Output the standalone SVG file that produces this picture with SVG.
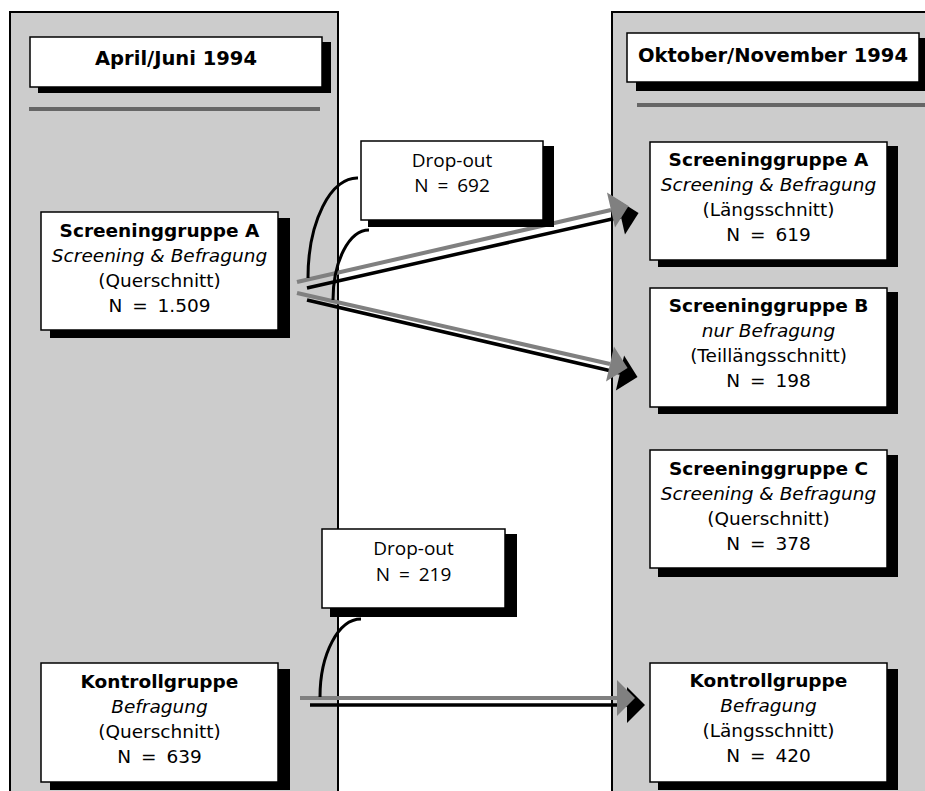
<svg xmlns="http://www.w3.org/2000/svg" width="925" height="791" viewBox="0 0 925 791">
<style>
.panel{fill:#cccccc;stroke:#000;stroke-width:2}
.box{fill:#fff;stroke:#000;stroke-width:1.5}
.shadow{fill:#000}
.sep{stroke:#666;stroke-width:4}
.hdr{font-family:"DejaVu Sans",sans-serif;font-weight:bold;font-size:19.5px;text-anchor:middle;fill:#000}
.t{font-family:"DejaVu Sans",sans-serif;font-size:18.5px;text-anchor:middle;fill:#000}
.b{font-weight:bold}
.i{font-style:italic}
.n{word-spacing:4px}
.d{font-family:"Open Sans","Noto Sans",sans-serif;font-size:19px;text-anchor:middle;fill:#000}
.dn{word-spacing:4px}
.gl{stroke:#808080;stroke-width:4;fill:none}
.bl{stroke:#000;stroke-width:3.5;fill:none}
.cv{stroke:#000;stroke-width:3;fill:none}
</style>
<defs>
<marker id="hg" markerUnits="userSpaceOnUse" orient="auto" refX="0" refY="0" markerWidth="40" markerHeight="40" viewBox="-2 -20 22 40" overflow="visible">
<path d="M0,-18 L18,0 L0,18 z" fill="#808080"/>
</marker>
<marker id="hb" markerUnits="userSpaceOnUse" orient="auto" refX="0" refY="0" markerWidth="40" markerHeight="40" viewBox="-2 -20 22 40" overflow="visible">
<path d="M0,-18 L18,0 L0,18 z" fill="#000"/>
</marker>
</defs>

<g id="panel-left">
<rect class="panel" x="10" y="12" width="328" height="790"/>
</g>
<g id="panel-right">
<rect class="panel" x="612" y="12" width="330" height="790"/>
</g>

<g id="header-left">
<rect class="shadow" x="38" y="42" width="293" height="51"/>
<rect class="box" x="30" y="37" width="292" height="50"/>
<text class="hdr" x="176" y="65">April/Juni 1994</text>
<line class="sep" x1="29" y1="109" x2="320" y2="109"/>
</g>
<g id="header-right">
<rect class="shadow" x="636" y="38" width="293" height="53"/>
<rect class="box" x="627" y="33" width="292" height="49"/>
<text class="hdr" x="773" y="62">Oktober/November 1994</text>
<line class="sep" x1="637" y1="105" x2="925" y2="105"/>
</g>

<g id="connectors">
<path class="bl" d="M307,288 L621,217" marker-end="url(#hb)"/>
<path class="gl" d="M297,282 L611,210" marker-end="url(#hg)"/>
<path class="bl" d="M307,300 L620,373" marker-end="url(#hb)"/>
<path class="gl" d="M297,293 L610,364" marker-end="url(#hg)"/>
<path class="bl" d="M310,705 L627,705" marker-end="url(#hb)"/>
<path class="gl" d="M300,698 L617,698" marker-end="url(#hg)"/>
<path class="cv" d="M308,278 A49,100 0 0 1 358,178"/>
<path class="cv" d="M333,300 A36,70 0 0 1 369,230"/>
<path class="cv" d="M320,697 A41,78 0 0 1 361,619"/>
</g>

<g id="left-screening-a">
<rect class="shadow" x="50" y="218" width="240" height="120"/>
<rect class="box" x="41" y="212" width="237" height="118"/>
<text class="t b" x="159.5" y="237">Screeninggruppe A</text>
<text class="t i" x="159.5" y="262">Screening &amp; Befragung</text>
<text class="t" x="159.5" y="287">(Querschnitt)</text>
<text class="t n" x="159.5" y="312">N = 1.509</text>
</g>

<g id="left-kontroll">
<rect class="shadow" x="50" y="669" width="240" height="121"/>
<rect class="box" x="41" y="663" width="237" height="119"/>
<text class="t b" x="159.5" y="688">Kontrollgruppe</text>
<text class="t i" x="159.5" y="713">Befragung</text>
<text class="t" x="159.5" y="738">(Querschnitt)</text>
<text class="t n" x="159.5" y="763">N = 639</text>
</g>

<g id="dropout-1">
<rect class="shadow" x="368" y="146" width="186" height="81"/>
<rect class="box" x="361" y="141" width="182" height="79"/>
<text class="d" x="452" y="167">Drop-out</text>
<text class="d dn" x="452" y="192">N = 692</text>
</g>

<g id="dropout-2">
<rect class="shadow" x="330" y="534" width="187" height="83"/>
<rect class="box" x="322" y="529" width="183" height="79"/>
<text class="d" x="413.5" y="555">Drop-out</text>
<text class="d dn" x="413.5" y="581">N = 219</text>
</g>

<g id="right-screening-a">
<rect class="shadow" x="658" y="146" width="240" height="121"/>
<rect class="box" x="650" y="142" width="237" height="118"/>
<text class="t b" x="768.5" y="166">Screeninggruppe A</text>
<text class="t i" x="768.5" y="191">Screening &amp; Befragung</text>
<text class="t" x="768.5" y="216">(Längsschnitt)</text>
<text class="t n" x="768.5" y="241">N = 619</text>
</g>

<g id="right-screening-b">
<rect class="shadow" x="658" y="292" width="240" height="122"/>
<rect class="box" x="650" y="288" width="237" height="119"/>
<text class="t b" x="768.5" y="312">Screeninggruppe B</text>
<text class="t i" x="768.5" y="337">nur Befragung</text>
<text class="t" x="768.5" y="362">(Teillängsschnitt)</text>
<text class="t n" x="768.5" y="387">N = 198</text>
</g>

<g id="right-screening-c">
<rect class="shadow" x="658" y="455" width="240" height="122"/>
<rect class="box" x="650" y="450" width="237" height="118"/>
<text class="t b" x="768.5" y="475">Screeninggruppe C</text>
<text class="t i" x="768.5" y="500">Screening &amp; Befragung</text>
<text class="t" x="768.5" y="525">(Querschnitt)</text>
<text class="t n" x="768.5" y="550">N = 378</text>
</g>

<g id="right-kontroll">
<rect class="shadow" x="658" y="669" width="240" height="121"/>
<rect class="box" x="650" y="663" width="237" height="119"/>
<text class="t b" x="768.5" y="687">Kontrollgruppe</text>
<text class="t i" x="768.5" y="712">Befragung</text>
<text class="t" x="768.5" y="737">(Längsschnitt)</text>
<text class="t n" x="768.5" y="762">N = 420</text>
</g>
</svg>
